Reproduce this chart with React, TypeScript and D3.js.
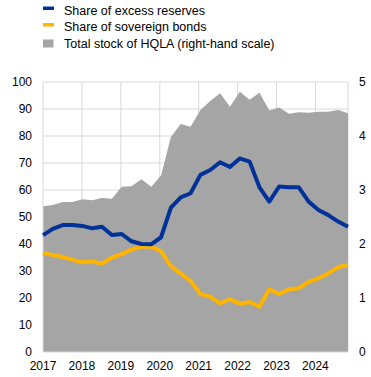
import React from "react";
import * as d3 from "d3";

const periods: string[] = [];
for (let y = 2017; y <= 2024; y++) for (let q = 1; q <= 4; q++) periods.push(`${y}Q${q}`);

const excessReserves = [43.3, 45.6, 47.0, 47.0, 46.7, 45.8, 46.4, 43.3, 43.7, 41.0, 40.0, 39.9, 42.5, 53.5, 57.3, 58.8, 65.6, 67.4, 70.3, 68.5, 71.7, 70.5, 61.0, 55.7, 61.3, 61.0, 61.0, 55.7, 52.6, 50.7, 48.3, 46.4];
const sovereignBonds = [36.8, 35.9, 35.2, 34.1, 33.2, 33.5, 32.8, 35.0, 36.2, 38.0, 39.0, 39.0, 37.3, 31.8, 29.0, 26.3, 21.5, 20.5, 18.0, 19.6, 17.9, 18.5, 16.8, 23.2, 21.5, 23.2, 23.6, 26.0, 27.3, 29.1, 31.4, 32.2];
const hqlaStock = [2.70, 2.72, 2.78, 2.78, 2.83, 2.81, 2.85, 2.84, 3.06, 3.07, 3.20, 3.06, 3.27, 3.98, 4.22, 4.17, 4.48, 4.65, 4.79, 4.54, 4.82, 4.67, 4.80, 4.47, 4.53, 4.41, 4.44, 4.43, 4.45, 4.45, 4.48, 4.42];

const years = [2017, 2018, 2019, 2020, 2021, 2022, 2023, 2024];
const leftTicks = [0, 10, 20, 30, 40, 50, 60, 70, 80, 90, 100];
const rightTicks = [0, 1, 2, 3, 4, 5];
const legendItems = [
  { label: "Share of excess reserves", color: "#003299", kind: "line" },
  { label: "Share of sovereign bonds", color: "#ffb400", kind: "line" },
  { label: "Total stock of HQLA (right-hand scale)", color: "#a5a5a5", kind: "box" },
];

const W = 371, H = 377;
const L = 43, R = 348, T = 82, B = 352;
const FONT = "Liberation Sans, Arial, sans-serif";

export default function App() {
  const xPt = d3.scalePoint<string>().domain(periods).range([L, R]);
  const xYear = d3.scaleLinear().domain([2017, 2024.836]).range([L, R]);
  const yL = d3.scaleLinear().domain([0, 100]).range([B, T]);
  const yR = d3.scaleLinear().domain([0, 5]).range([B, T]);

  const area = d3.area<number>()
    .x((_, i) => xPt(periods[i])!)
    .y0(B)
    .y1((d) => yR(d));
  const line = d3.line<number>()
    .x((_, i) => xPt(periods[i])!)
    .y((d) => yL(d));

  return (
    <svg width={W} height={H} style={{ position: "absolute", left: 0, top: 0, background: "#fff" }} fontFamily={FONT}>
      {/* legend */}
      {legendItems.map((it, i) => {
        const cy = 10 + i * 16.5;
        return (
          <g key={it.label}>
            {it.kind === "line" ? (
              <rect x={43} y={cy - 3.5} width={11} height={3.5} fill={it.color} />
            ) : (
              <rect x={43} y={cy - 3.5} width={10.5} height={8} fill={it.color} />
            )}
            <text x={64} y={cy + 4.5} fontSize={12.5} fill="#000">{it.label}</text>
          </g>
        );
      })}

      {/* gridlines */}
      {leftTicks.filter((t) => t > 0).map((t) => (
        <line key={"h" + t} x1={L} x2={R} y1={yL(t)} y2={yL(t)} stroke="#d9d9d9" strokeWidth={1} />
      ))}
      {years.filter((y) => y > 2017).map((y) => (
        <line key={"v" + y} x1={xYear(y)} x2={xYear(y)} y1={T} y2={B} stroke="#d9d9d9" strokeWidth={1} />
      ))}
      <line x1={R} x2={R} y1={T} y2={B} stroke="#d9d9d9" strokeWidth={1} />

      {/* area */}
      <path d={area(hqlaStock)!} fill="#a5a5a5" />

      {/* axes */}
      <line x1={L} x2={L} y1={T} y2={B} stroke="#d9d9d9" strokeWidth={1} />
      <line x1={L} x2={R} y1={B} y2={B} stroke="#d9d9d9" strokeWidth={1} />

      {/* lines */}
      <path d={line(sovereignBonds)!} fill="none" stroke="#ffb400" strokeWidth={4} strokeLinejoin="round" />
      <path d={line(excessReserves)!} fill="none" stroke="#003299" strokeWidth={4} strokeLinejoin="round" />

      {/* left ticks */}
      {leftTicks.map((t) => (
        <text key={"l" + t} x={32} y={yL(t)} dy="0.35em" textAnchor="end" fontSize={12} fill="#000">{t}</text>
      ))}
      {/* right ticks */}
      {rightTicks.map((t) => (
        <text key={"r" + t} x={359} y={yR(t)} dy="0.35em" textAnchor="start" fontSize={12} fill="#000">{t}</text>
      ))}
      {/* x labels */}
      {years.map((y) => (
        <text key={"x" + y} x={xYear(y)} y={370} textAnchor="middle" fontSize={12} fill="#000">{y}</text>
      ))}
    </svg>
  );
}
